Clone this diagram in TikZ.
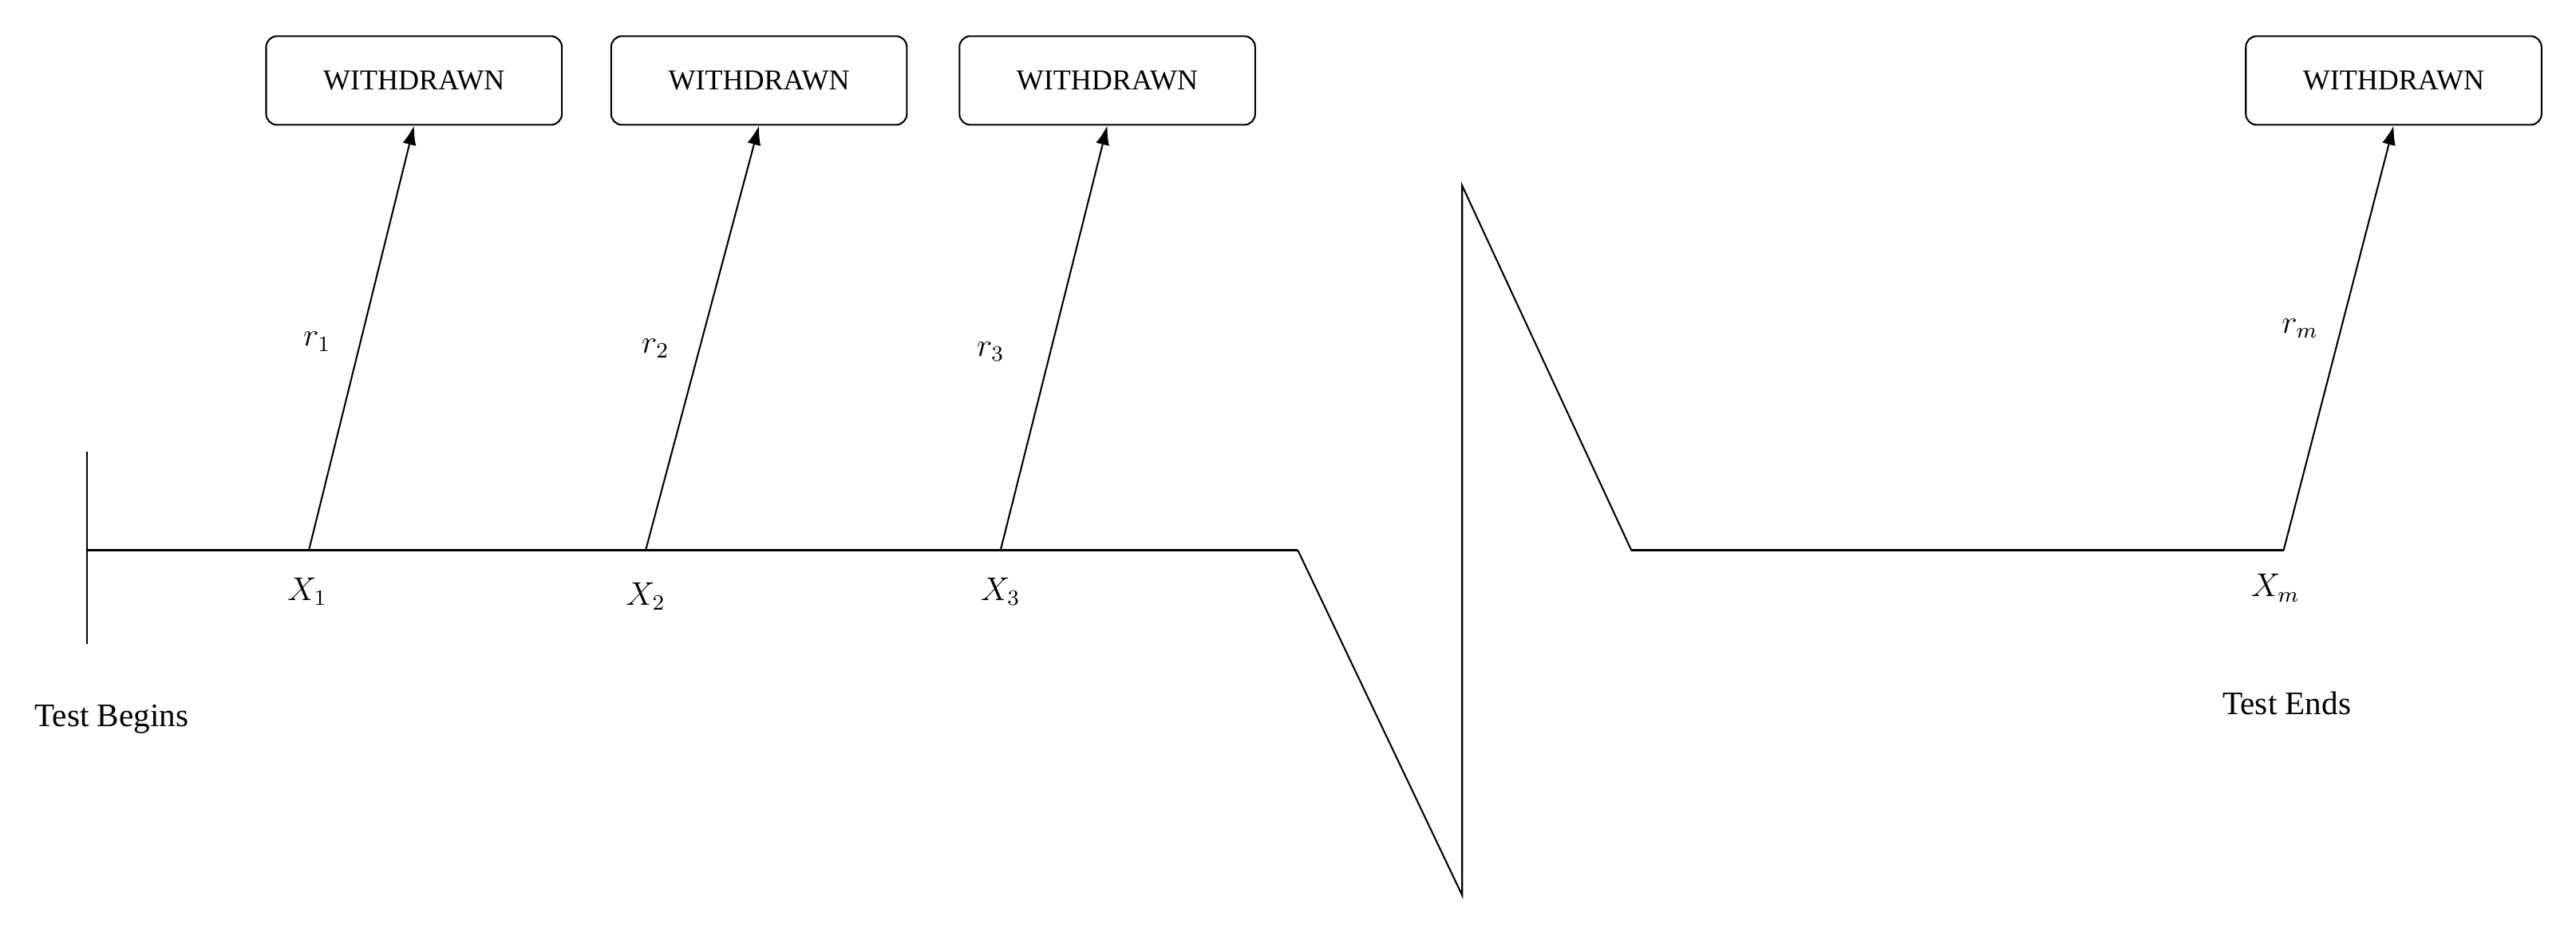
\documentclass[tikz,border=0pt]{standalone}
\usepackage{fontspec}
\setmainfont{Liberation Serif}
\usetikzlibrary{arrows.meta}
\begin{document}
\begin{tikzpicture}[x=0.6pt,y=-0.6pt,line width=0.6pt,
  wbox/.style={draw,rounded corners=4pt,minimum width=180*0.6pt,minimum height=54*0.6pt,inner sep=0pt,font=\fontsize{10.5}{12}\selectfont},
  lbl/.style={font=\fontsize{12}{14}\selectfont,inner sep=0pt},
  arr/.style={-{Latex[length=7pt,width=5pt]}}]
\useasboundingbox (0,0) rectangle (1568,567);
\node[wbox] (w1) at (252,49) {WITHDRAWN};
\node[wbox] (w2) at (462,49) {WITHDRAWN};
\node[wbox] (w3) at (674,49) {WITHDRAWN};
\node[wbox] (wm) at (1457,49) {WITHDRAWN};
\coordinate (tt) at (53,275);
\coordinate (tb) at (53,392);
\coordinate (s) at (53,335);
\coordinate (x1) at (188,335);
\coordinate (x2) at (393,335);
\coordinate (x3) at (609,335);
\coordinate (z1) at (790,335);
\coordinate (z2) at (890,545);
\coordinate (z3) at (890,113);
\coordinate (z4) at (993,335);
\coordinate (xm) at (1390,335);
\draw (tt) -- (tb);
\draw[line width=0.8pt] (s) -- (z1);
\draw (z1) -- (z2) -- (z3) -- (z4);
\draw[line width=0.8pt] (z4) -- (xm);
\draw[arr] (x1) -- (w1.south);
\draw[arr] (x2) -- (w2.south);
\draw[arr] (x3) -- (w3.south);
\draw[arr] (xm) -- (wm.south);
\node[lbl] (r1) at (193,208) {$r_1$};
\node[lbl] (r2) at (399,212) {$r_2$};
\node[lbl] (r3) at (603,214) {$r_3$};
\node[lbl] (rm) at (1400,200) {$r_m$};
\node[lbl] (lx1) at (187,360) {$X_1$};
\node[lbl] (lx2) at (393,363) {$X_2$};
\node[lbl] (lx3) at (609,360) {$X_3$};
\node[lbl] (lxm) at (1385,358) {$X_m$};
\node[lbl] (tbg) at (68,438) {Test Begins};
\node[lbl] (ten) at (1392,428) {Test Ends};
\end{tikzpicture}
\end{document}
